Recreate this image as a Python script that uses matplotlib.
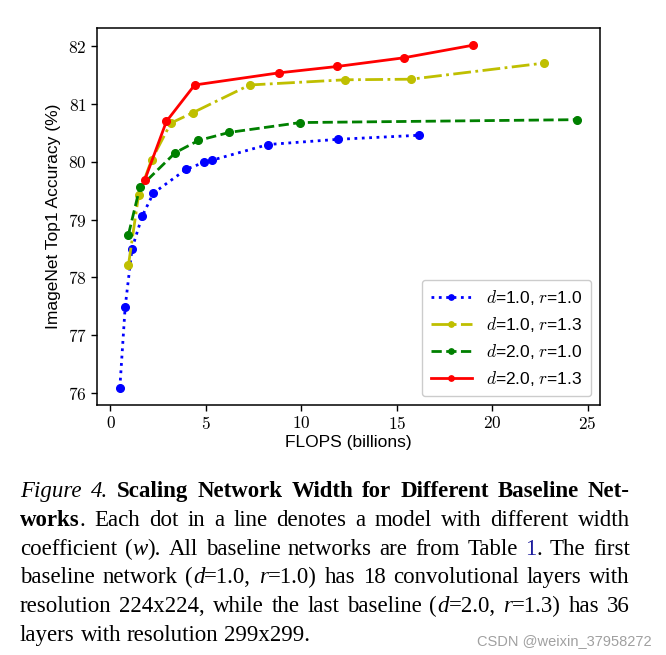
import matplotlib
matplotlib.use("Agg")
import matplotlib.pyplot as plt
from matplotlib.ticker import FuncFormatter

plt.rcParams["font.family"] = ["Liberation Sans", "DejaVu Sans"]
plt.rcParams["mathtext.fontset"] = "cm"

# FLOPS (billions) and ImageNet top-1 accuracy
flops_d10_r10 = [0.49, 0.77, 1.13, 1.66, 2.25, 3.96, 4.89, 5.34, 8.26, 11.92, 16.16]
acc_d10_r10 = [76.09, 77.49, 78.50, 79.06, 79.46, 79.87, 79.99, 80.03, 80.30, 80.39, 80.46]

flops_d10_r13 = [0.94, 1.47, 2.15, 3.16, 4.31, 7.29, 12.30, 15.74, 22.74]
acc_d10_r13 = [78.21, 79.42, 80.03, 80.67, 80.85, 81.33, 81.42, 81.43, 81.71]

flops_d20_r10 = [0.94, 1.54, 3.40, 4.61, 6.23, 9.95, 24.45]
acc_d20_r10 = [78.74, 79.56, 80.16, 80.37, 80.51, 80.68, 80.73]

flops_d20_r13 = [1.80, 2.93, 4.41, 8.83, 11.87, 15.36, 19.02]
acc_d20_r13 = [79.69, 80.70, 81.33, 81.54, 81.65, 81.80, 82.02]

labels = [r"$d$=1.0, $r$=1.0", r"$d$=1.0, $r$=1.3",
          r"$d$=2.0, $r$=1.0", r"$d$=2.0, $r$=1.3"]

# caption runs: (text, style)
caption = [
    ([("Figure 4.", "i"), (" Scaling Network Width for Different Baseline Net-", "b")], True),
    ([("works", "b"), (". Each dot in a line denotes a model with different width", "r")], True),
    ([("coefficient (", "r"), ("w", "i"), ("). All baseline networks are from Table ", "r"),
      ("1", "link"), (". The first", "r")], True),
    ([("baseline network (", "r"), ("d", "i"), ("=1.0, ", "r"), ("r", "i"),
      ("=1.0) has 18 convolutional layers with", "r")], True),
    ([("resolution 224x224, while the last baseline (", "r"), ("d", "i"), ("=2.0, ", "r"),
      ("r", "i"), ("=1.3) has 36", "r")], True),
    ([("layers with resolution 299x299.", "r")], False),
]

STY = {
    "r": dict(fontstyle="normal", fontweight="normal", color="black"),
    "i": dict(fontstyle="italic", fontweight="normal", color="black"),
    "b": dict(fontstyle="normal", fontweight="bold", color="black"),
    "link": dict(fontstyle="normal", fontweight="normal", color="#1c1c9c"),
}


def draw_caption(fig, lines, x0, x1, y_first, dy, size):
    rend = fig.canvas.get_renderer()
    W = fig.bbox.width

    def width(t):
        return t.get_window_extent(renderer=rend).width / W

    probe = fig.text(0, 0, "a a", fontsize=size, family="Liberation Serif")
    probe2 = fig.text(0, 0, "aa", fontsize=size, family="Liberation Serif")
    space = width(probe) - width(probe2)
    probe.remove(); probe2.remove()

    for k, (runs, justify) in enumerate(lines):
        y = y_first - k * dy
        words = [[]]
        for txt, sty in runs:
            parts = txt.split(" ")
            for j, p in enumerate(parts):
                if j > 0:
                    words.append([])
                if p:
                    words[-1].append((p, sty))
        words = [w for w in words if w]
        placed = []
        for w in words:
            arts = []
            for p, sty in w:
                arts.append(fig.text(0, y, p, fontsize=size, family="Liberation Serif",
                                     va="baseline", ha="left", **STY[sty]))
            placed.append(arts)
        wid = [sum(width(a) for a in arts) for arts in placed]
        if justify and len(placed) > 1:
            gap = (x1 - x0 - sum(wid)) / (len(placed) - 1)
        else:
            gap = space
        x = x0
        for arts, ww in zip(placed, wid):
            xx = x
            for a in arts:
                a.set_x(xx)
                xx += width(a)
            x += ww + gap


fig = plt.figure(figsize=(6.66, 6.55), dpi=100)
ax = fig.add_axes([0.1456, 0.3817, 0.7553, 0.5756])

ax.plot(flops_d10_r10, acc_d10_r10, "b:", marker="o", ms=5.5, lw=2, label=labels[0])
ax.plot(flops_d10_r13, acc_d10_r13, "y-.", marker="o", ms=5.5, lw=2, label=labels[1])
ax.plot(flops_d20_r10, acc_d20_r10, "g--", marker="o", ms=5.5, lw=2, label=labels[2])
ax.plot(flops_d20_r13, acc_d20_r13, "r-", marker="o", ms=5.5, lw=2, label=labels[3])

ax.set_xticks([0, 5, 10, 15, 20, 25])
ax.set_yticks([76, 77, 78, 79, 80, 81, 82])
fmt = FuncFormatter(lambda v, p: f"${v:g}$")
ax.xaxis.set_major_formatter(fmt)
ax.yaxis.set_major_formatter(fmt)
ax.tick_params(labelsize=12.5, width=1, length=4)
for s in ax.spines.values():
    s.set_linewidth(1.1)

ax.set_xlabel("FLOPS (billions)", fontsize=12.5, labelpad=2)
ax.set_ylabel("ImageNet Top1 Accuracy (%)", fontsize=12.5, labelpad=5)

ax.legend(loc="lower right", fontsize=12.5, markerscale=0.7, handlelength=2.4,
          borderpad=0.5, labelspacing=0.45, framealpha=1, edgecolor="#cccccc")

draw_caption(fig, caption, 20 / 666, 630 / 666, 1 - 497 / 655, 28.8 / 655, 16.5)

fig.text(652 / 666, 1 - 645 / 655, "CSDN @weixin_37958272", fontsize=10.5,
         color="#a0a0a0", ha="right", va="baseline")

fig.savefig("out.png", dpi=100)
